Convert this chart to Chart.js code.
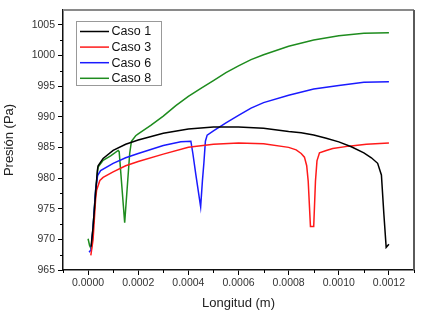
<!DOCTYPE html>
<html>
<head>
<meta charset="utf-8">
<script src="https://cdn.jsdelivr.net/npm/chart.js@4/dist/chart.umd.min.js"></script>
<style>
html,body{margin:0;padding:0;background:#fff;}
#wrap{width:427px;height:313px;}
</style>
</head>
<body>
<div id="wrap"><canvas id="c" width="427" height="313"></canvas></div>
<script>
// ---- data ----
const seriesLabels = ["Caso 1", "Caso 3", "Caso 6", "Caso 8"];

const caso1X = [0.000012,0.00002,0.00003,0.000037,0.00004,0.00006,0.0001,0.00015,0.0002,0.0003,0.0004,0.0005,0.0006,0.0007,0.0008,0.00085,0.0009,0.00095,0.001,0.00105,0.0011,0.00113,0.001155,0.00117,0.00118,0.001189,0.0012];
const caso1Y = [968.8,972,977.5,981.2,982.0,983.2,984.5,985.5,986.2,987.3,988.0,988.3,988.3,988.1,987.6,987.4,987.0,986.5,985.9,985.1,984.1,983.3,982.4,980.5,974.0,968.7,969.2];

const caso3X = [0.000011,0.00002,0.00003,0.000034,0.000047,0.00006,0.0001,0.00015,0.0002,0.0003,0.0004,0.0005,0.0006,0.0007,0.0008,0.00083,0.00085,0.000863,0.000872,0.000878,0.000887,0.0009,0.000907,0.000913,0.000923,0.00095,0.000976,0.00104,0.00111,0.0012];
const caso3Y = [967.4,970,976.5,978.0,979.6,980.1,981.0,982.0,982.7,983.9,985.0,985.5,985.7,985.6,985.0,984.6,984.0,983.4,982.0,979.5,972.1,972.1,979.5,982.8,984.1,984.5,984.8,985.2,985.5,985.7];

const caso6X = [0.000004,0.000012,0.00002,0.00003,0.000038,0.00005,0.0001,0.00015,0.0002,0.0003,0.00037,0.00041,0.000418,0.00043,0.000449,0.000456,0.000462,0.000468,0.000475,0.0005,0.00055,0.0006,0.00065,0.0007,0.0008,0.0009,0.001,0.0011,0.0012];
const caso6Y = [967.9,968.3,972,978,980.4,981.2,982.4,983.3,984.0,985.3,985.9,986.0,984.0,980.5,975.3,979.5,982.5,986.0,987.0,987.7,989.0,990.2,991.4,992.3,993.5,994.5,995.1,995.6,995.7];

const caso8X = [0.0,0.000006,0.000013,0.00002,0.00003,0.00004,0.00006,0.00009,0.00012,0.000124,0.000146,0.000166,0.000173,0.00019,0.0002,0.00025,0.0003,0.00035,0.0004,0.00045,0.0005,0.00055,0.0006,0.00065,0.0007,0.0008,0.0009,0.001,0.0011,0.0012];
const caso8Y = [970.1,969.0,968.4,972,978,981.8,982.9,983.6,984.5,984.3,972.7,984.0,986.0,986.9,987.2,988.6,990.1,991.8,993.3,994.6,995.9,997.2,998.3,999.3,1000.1,1001.5,1002.5,1003.2,1003.6,1003.7];

const xTicks = [0.0000,0.0002,0.0004,0.0006,0.0008,0.0010,0.0012];
const yTicks = [965,970,975,980,985,990,995,1000,1005];
const xRange = [-0.0001, 0.0013];
const yRange = [965, 1007.4];

const colors = ["#000000", "#ff1a1a", "#1a1aff", "#1e8c1e"];

// ---- build ----
function zip(xs, ys){ return xs.map((x,i)=>({x:x, y:ys[i]})); }
const allX = [caso1X, caso3X, caso6X, caso8X];
const allY = [caso1Y, caso3Y, caso6Y, caso8Y];
const datasets = seriesLabels.map((lab,i)=>({
  label: lab,
  data: zip(allX[i], allY[i]),
  borderColor: colors[i],
  backgroundColor: colors[i],
  borderWidth: 1.5,
  pointRadius: 0,
  tension: 0,
  fill: false
}));

const FONT = "'Liberation Sans', Arial, sans-serif";

function midpoints(arr){
  const out=[];
  for(let i=0;i<arr.length-1;i++) out.push((arr[i]+arr[i+1])/2);
  return out;
}

const framePlugin = {
  id: 'frame',
  afterDraw(chart){
    const ctx = chart.ctx, a = chart.chartArea;
    const xs = chart.scales.x, ys = chart.scales.y;
    ctx.save();
    // top & right frame
    ctx.strokeStyle = '#8a8a8a';
    ctx.lineWidth = 2;
    ctx.beginPath();
    ctx.moveTo(a.left, a.top); ctx.lineTo(a.right, a.top);
    ctx.stroke();
    ctx.strokeStyle = '#5a5a5a';
    ctx.beginPath();
    ctx.moveTo(a.right, a.top); ctx.lineTo(a.right, a.bottom);
    ctx.stroke();
    // minor ticks
    ctx.strokeStyle = '#000';
    ctx.lineWidth = 1;
    const xm = midpoints(xTicks);
    xm.push(xTicks[0] - (xTicks[1]-xTicks[0])/2);
    xm.push(xTicks[xTicks.length-1] + (xTicks[1]-xTicks[0])/2);
    xm.forEach(v=>{
      if (v < xRange[0] || v > xRange[1]) return;
      const p = Math.round(xs.getPixelForValue(v)) + 0.5;
      ctx.beginPath(); ctx.moveTo(p, a.bottom); ctx.lineTo(p, a.bottom + 3); ctx.stroke();
    });
    const ym = midpoints(yTicks);
    ym.push(yTicks[yTicks.length-1] + (yTicks[1]-yTicks[0])/2);
    ym.forEach(v=>{
      if (v < yRange[0] || v > yRange[1]) return;
      const p = Math.round(ys.getPixelForValue(v)) + 0.5;
      ctx.beginPath(); ctx.moveTo(a.left, p); ctx.lineTo(a.left - 3, p); ctx.stroke();
    });
    // legend box
    const bx = a.left + 13, by = a.top + 11, bw = 85, bh = 64;
    ctx.fillStyle = '#fff';
    ctx.fillRect(bx, by, bw, bh);
    ctx.strokeStyle = '#999';
    ctx.lineWidth = 1;
    ctx.strokeRect(bx + 0.5, by + 0.5, bw, bh);
    ctx.font = '12.5px ' + FONT;
    ctx.textBaseline = 'middle';
    chart.data.datasets.forEach((ds, i)=>{
      const cy = by + 10.5 + i * 15.6;
      ctx.strokeStyle = ds.borderColor;
      ctx.lineWidth = 1.5;
      ctx.beginPath(); ctx.moveTo(bx + 4, cy); ctx.lineTo(bx + 33, cy); ctx.stroke();
      ctx.fillStyle = '#111';
      ctx.fillText(ds.label, bx + 35.5, cy + 0.5);
    });
    ctx.restore();
  }
};

new Chart(document.getElementById('c'), {
  type: 'line',
  data: { datasets: datasets },
  options: {
    responsive: false,
    animation: false,
    parsing: true,
    layout: { padding: { left: 0, right: 13, top: 10, bottom: 0 } },
    plugins: { legend: { display: false }, tooltip: { enabled: false } },
    scales: {
      x: {
        type: 'linear',
        min: xRange[0], max: xRange[1],
        afterBuildTicks: s => { s.ticks = xTicks.map(v=>({value:v})); },
        afterFit: s => { s.height = 43; },
        ticks: {
          color: '#333',
          font: { family: FONT, size: 10.5 },
          padding: 2,
          maxRotation: 0,
          callback: v => Number(v).toFixed(4)
        },
        grid: { drawOnChartArea: false, drawTicks: true, tickLength: 5, tickColor: '#000' },
        border: { display: true, color: '#111', width: 1.5 },
        title: { display: true, text: 'Longitud (m)', color: '#222', font: { family: FONT, size: 13 }, padding: { top: 0, bottom: 2 } }
      },
      y: {
        type: 'linear',
        min: yRange[0], max: yRange[1],
        afterBuildTicks: s => { s.ticks = yTicks.map(v=>({value:v})); },
        afterFit: s => { s.width = 63; },
        ticks: {
          color: '#333',
          font: { family: FONT, size: 10.5 },
          padding: 3,
          callback: v => String(v)
        },
        grid: { drawOnChartArea: false, drawTicks: true, tickLength: 5, tickColor: '#000' },
        border: { display: true, color: '#111', width: 1.5 },
        title: { display: true, text: 'Presión (Pa)', color: '#222', font: { family: FONT, size: 13 }, padding: { top: 2, bottom: 0 } }
      }
    }
  },
  plugins: [framePlugin]
});
</script>
</body>
</html>
